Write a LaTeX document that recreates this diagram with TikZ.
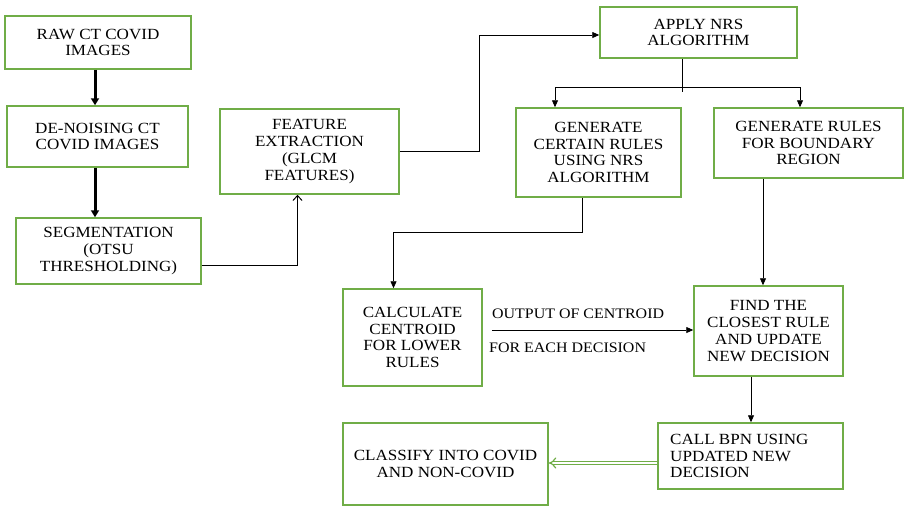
\documentclass[tikz,border=0pt]{standalone}
\usepackage{fontspec}
\setmainfont{Liberation Serif}[FakeStretch=1.1]
\usetikzlibrary{arrows.meta}
\definecolor{boxgreen}{RGB}{112,173,71}
\begin{document}
\begin{tikzpicture}[x=1pt,y=-1pt,
    stage/.style={draw=boxgreen, line width=1.5pt, align=center, inner sep=2pt,
                  font=\fontsize{15.5}{16.7}\selectfont},
    lbl/.style={font=\fontsize{14.5}{16.7}\selectfont, inner sep=0pt},
    thin/.style={line width=0.8pt, -{Triangle[length=7pt,width=6pt]}},
    heavy/.style={line width=3pt, -{Triangle[length=7pt,width=8pt]}},
    open/.style={line width=1pt, -{Straight Barb[length=5pt,width=9pt]}},
    dbl/.style={draw=boxgreen, double=white, double distance=2.5pt, line width=1.2pt,
                -{Implies}}]
    \useasboundingbox (0,0) rectangle (907,507);
    \node[stage, minimum width=186pt, minimum height=53pt] (raw) at (98,42.5)
        {RAW CT COVID\\IMAGES};
    \node[stage, minimum width=181pt, minimum height=61pt] (denoise) at (97.5,136.5)
        {DE-NOISING CT\\COVID IMAGES};
    \node[stage, minimum width=185pt, minimum height=66pt] (seg) at (108.5,251)
        {SEGMENTATION\\(OTSU\\THRESHOLDING)};
    \node[stage, minimum width=179pt, minimum height=85pt] (feature) at (309.5,151.5)
        {FEATURE\\EXTRACTION\\(GLCM\\FEATURES)};
    \node[stage, minimum width=197pt, minimum height=51pt] (apply) at (698.5,32.5)
        {APPLY NRS\\ALGORITHM};
    \node[stage, minimum width=165pt, minimum height=89pt] (certain) at (598.5,152.5)
        {GENERATE\\CERTAIN RULES\\USING NRS\\ALGORITHM};
    \node[stage, minimum width=189pt, minimum height=70pt] (boundary) at (808.5,143)
        {GENERATE RULES\\FOR BOUNDARY\\REGION};
    \node[stage, minimum width=139pt, minimum height=97pt] (calc) at (412.5,337.5)
        {CALCULATE\\CENTROID\\FOR LOWER\\RULES};
    \node[stage, minimum width=149pt, minimum height=90pt] (find) at (768.5,331)
        {FIND THE\\CLOSEST RULE\\AND UPDATE\\NEW DECISION};
    \node[stage, minimum width=185pt, minimum height=66pt] (bpn) at (750.5,456) {};
    \node[lbl, font=\fontsize{15.5}{16.7}\selectfont, anchor=west, align=left] (bpntext) at (670,456)
        {CALL BPN USING\\UPDATED NEW\\DECISION};
    \node[stage, minimum width=205pt, minimum height=82pt] (classify) at (445.5,464)
        {CLASSIFY INTO COVID\\AND NON-COVID};
    \node[lbl, anchor=base west] (outlab) at (492,318) {OUTPUT OF CENTROID};
    \node[lbl, anchor=base west] (declab) at (489,352) {FOR EACH DECISION};
    % connectors
    \coordinate (fork) at (682,87);
    \draw[heavy] ([xshift=-3pt]raw.south) -- ([xshift=-3pt]raw.south |- denoise.north);
    \draw[heavy] ([xshift=-2.5pt]denoise.south) -- ([xshift=-2.5pt]denoise.south |- seg.north);
    \draw[open] ([yshift=-14pt]seg.east) -| ([xshift=-12pt]feature.south);
    \draw[thin] (feature.east) -- ++(80,0) |- ([yshift=-2.5pt]apply.west);
    \draw[line width=0.8pt] ([xshift=-16.5pt]apply.south) -- ++(0,33);
    \draw[thin] (fork) -| ([xshift=-43.5pt]certain.north);
    \draw[thin] (fork) -| ([xshift=-8.5pt]boundary.north);
    \draw[thin] ([xshift=-16.5pt]certain.south) -- ++(0,35) -| ([xshift=-19pt]calc.north);
    \draw[thin] ([xshift=-45.5pt]boundary.south) -- ([xshift=-45.5pt]boundary.south |- find.north);
    \draw[thin] ([xshift=9pt,yshift=7.5pt]calc.east) -- ([yshift=1pt]find.west);
    \draw[thin] ([xshift=-17.5pt]find.south) -- ([xshift=-17.5pt]find.south |- bpn.north);
    \draw[dbl] ([yshift=-7pt]bpn.west) -- ([yshift=-7pt]bpn.west -| classify.east);
\end{tikzpicture}
\end{document}
